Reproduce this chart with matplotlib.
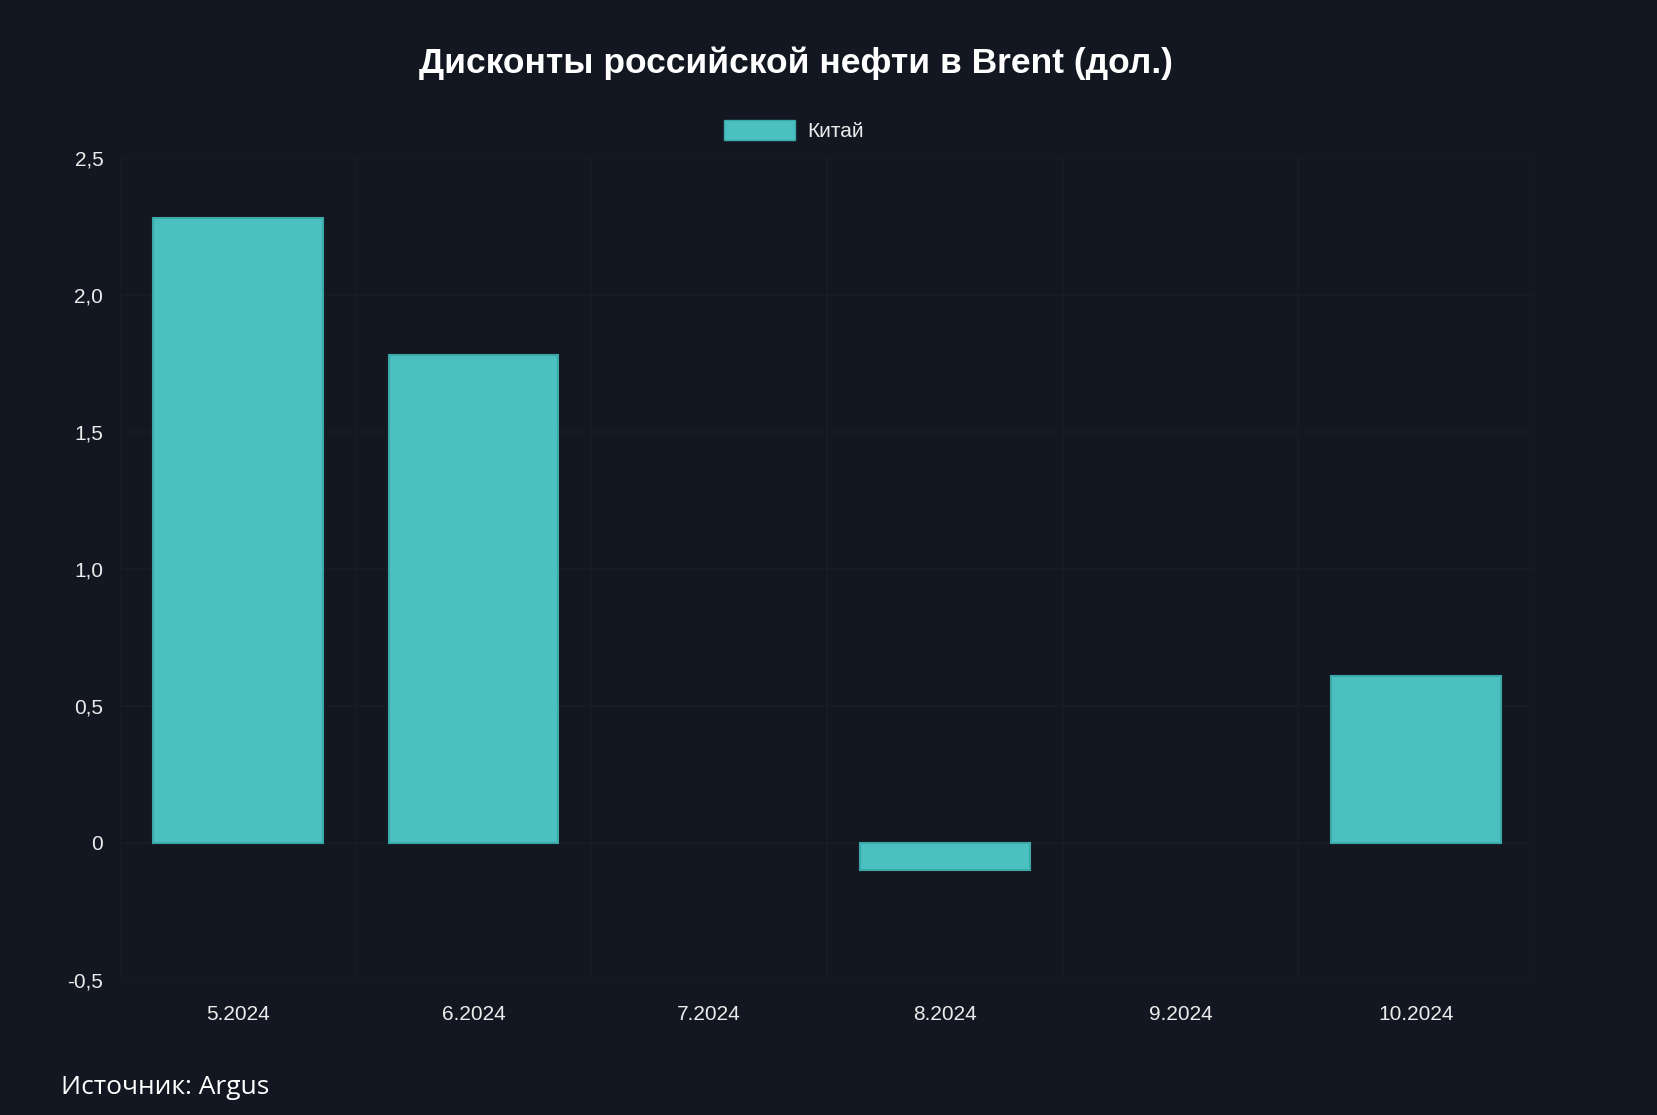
import matplotlib.pyplot as plt
from matplotlib.patches import Patch
from matplotlib.ticker import FuncFormatter

# данные
months = ['5.2024', '6.2024', '7.2024', '8.2024', '9.2024', '10.2024']
china = [2.28, 1.78, 0, -0.1, 0, 0.61]
y_ticks = [-0.5, 0, 0.5, 1.0, 1.5, 2.0, 2.5]

bg = '#131721'
bar_col = '#4BC0C0'
txt = '#ECECEC'

plt.rcParams['font.family'] = ['Liberation Sans', 'DejaVu Sans']

fig = plt.figure(figsize=(16.58, 11.15), dpi=100, facecolor=bg)
ax = fig.add_axes([0.0724, 0.1212, 0.8528, 0.7372], facecolor=bg)

x = list(range(len(months)))
# у нулевых столбцов рамку не рисуем
lw = [1.5 if v != 0 else 0 for v in china]
ax.bar(x, china, width=0.72, color=bar_col, edgecolor='#3AA9A9', linewidth=lw, zorder=3)

ax.set_xlim(-0.5, len(months) - 0.5)
ax.set_ylim(-0.5, 2.5)
ax.set_yticks(y_ticks)
ax.yaxis.set_major_formatter(FuncFormatter(lambda v, p: '0' if v == 0 else f'{v:.1f}'.replace('.', ',')))
ax.set_xticks(x)
ax.set_xticklabels(months)

# сетка: горизонтальные линии и вертикальные между категориями
for v in y_ticks:
    ax.axhline(v, color='#181c25', linewidth=1.2, zorder=1)
for b in range(len(months) + 1):
    ax.axvline(b - 0.5, color='#181c25', linewidth=1.2, zorder=1)

for s in ax.spines.values():
    s.set_visible(False)
ax.tick_params(axis='both', length=0, colors=txt, labelsize=15)
ax.tick_params(axis='y', pad=12)
ax.tick_params(axis='x', pad=18)

fig.text(0.48, 0.943, 'Дисконты российской нефти в Brent (дол.)', ha='center', va='center',
         color='white', fontsize=25.5, fontweight='bold')

leg = fig.legend(handles=[Patch(facecolor=bar_col, edgecolor='#3AA9A9', label='Китай')],
                 loc='center', bbox_to_anchor=(0.479, 0.883), frameon=False,
                 fontsize=15, handlelength=3.4, handleheight=1.1, handletextpad=0.6)
for t in leg.get_texts():
    t.set_color(txt)

fig.text(0.037, 0.025, 'Источник: Argus', ha='left', va='center', color='white',
         fontsize=19, family=['Open Sans', 'DejaVu Sans'])

fig.savefig('out.png', dpi=100, facecolor=bg)
